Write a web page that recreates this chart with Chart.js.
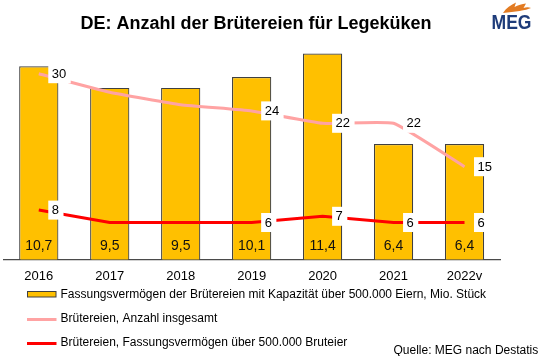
<!DOCTYPE html>
<html><head><meta charset="utf-8">
<script src="https://cdn.jsdelivr.net/npm/chart.js@4.4.0/dist/chart.umd.min.js"></script>
<style>html,body{margin:0;padding:0;background:#fff;}canvas{display:block;}</style>
</head><body>
<canvas id="c" width="540" height="356"></canvas>
<script>
// ---- data ----
const categories = ['2016', '2017', '2018', '2019', '2020', '2021', '2022v'];
const capacityMio = [10.7, 9.5, 9.5, 10.1, 11.4, 6.4, 6.4];
const hatcheriesTotal = [30, 27, 25, 24, 22, 22, 15];
const hatcheriesLarge = [8, 6, 6, 6, 7, 6, 6];
const labelledPoints = [0, 3, 4, 5, 6];
const seriesNames = [
  'Fassungsvermögen der Brütereien mit Kapazität über 500.000 Eiern, Mio. Stück',
  'Brütereien, Anzahl insgesamt',
  'Brütereien, Fassungsvermögen über 500.000 Bruteier'
];
const chartTitle = 'DE: Anzahl der Brütereien für Legeküken';
const sourceNote = 'Quelle: MEG nach Destatis';
const logoText = 'MEG';

const FONT = '"Liberation Sans", Arial, Helvetica, sans-serif';
Chart.defaults.font.family = FONT;
Chart.defaults.color = '#000';

const decorPlugin = {
  id: 'decor',
  afterDatasetsDraw(chart) {
    const ctx = chart.ctx;
    const ds = chart.data.datasets;
    ctx.save();
    // bar value labels
    const barMeta = chart.getDatasetMeta(0);
    const y0 = chart.scales.y.getPixelForValue(0);
    ctx.font = '14px ' + FONT;
    ctx.fillStyle = '#111';
    ctx.textAlign = 'center';
    ctx.textBaseline = 'middle';
    barMeta.data.forEach((el, i) => {
      ctx.fillText(ds[0].data[i].toFixed(1).replace('.', ','), el.x, y0 - 13.5);
    });
    // line labels
    ctx.font = '13px ' + FONT;
    ctx.textAlign = 'left';
    [1, 2].forEach(di => {
      const meta = chart.getDatasetMeta(di);
      labelledPoints.forEach(i => {
        const el = meta.data[i];
        const txt = String(ds[di].data[i]);
        const w = ctx.measureText(txt).width;
        const tx = el.x + 13;
        ctx.fillStyle = '#fff';
        ctx.fillRect(el.x + 9.5, el.y - 9.5, (tx - el.x - 9.5) + w + 4.5, 19);
        ctx.fillStyle = '#000';
        ctx.fillText(txt, tx, el.y + 0.5);
      });
    });
    ctx.restore();
  },
  afterDraw(chart) {
    const ctx = chart.ctx;
    const ds = chart.data.datasets;
    ctx.save();
    // title
    ctx.font = 'bold 18px ' + FONT;
    ctx.fillStyle = '#000';
    ctx.textAlign = 'left';
    ctx.textBaseline = 'alphabetic';
    ctx.fillText(chartTitle, 80.5, 28.5);
    // logo
    ctx.fillStyle = '#E27B22';
    ctx.beginPath();
    ctx.moveTo(503, 13);
    ctx.bezierCurveTo(506, 8, 511, 5, 516, 2.5);
    ctx.lineTo(514.5, 7);
    ctx.bezierCurveTo(518, 5, 522, 4, 526, 3.5);
    ctx.lineTo(523.5, 8);
    ctx.bezierCurveTo(526, 7, 529, 7, 531, 8);
    ctx.bezierCurveTo(526, 10.5, 515, 11.5, 503, 13);
    ctx.fill();
    ctx.font = 'bold 21px ' + FONT;
    ctx.fillStyle = '#1E3C7A';
    ctx.fillText(logoText, 491.5, 28.5, 40);
    // legend
    ctx.font = '12px ' + FONT;
    ctx.textBaseline = 'middle';
    const rows = [294.5, 318.5, 342.5];
    ctx.fillStyle = ds[0].backgroundColor;
    ctx.fillRect(27.5, 291.5, 28.5, 5.5);
    ctx.strokeStyle = ds[0].borderColor;
    ctx.lineWidth = 1;
    ctx.strokeRect(27.5, 291.5, 28.5, 5.5);
    ctx.fillStyle = '#000';
    ctx.fillText(ds[0].label, 60.5, rows[0]);
    [1, 2].forEach((di, k) => {
      const ly = rows[k + 1] + 1;
      ctx.strokeStyle = ds[di].borderColor;
      ctx.lineWidth = 3;
      ctx.beginPath();
      ctx.moveTo(27, ly);
      ctx.lineTo(56.5, ly);
      ctx.stroke();
      ctx.fillStyle = '#000';
      ctx.fillText(ds[di].label, 60.5, rows[k + 1]);
    });
    ctx.fillText(sourceNote, 393.5, 350.5);
    ctx.restore();
  }
};

new Chart(document.getElementById('c'), {
  data: {
    labels: categories,
    datasets: [
      {
        type: 'bar', label: seriesNames[0], data: capacityMio, yAxisID: 'y',
        backgroundColor: '#FFC000', borderColor: '#404040', borderWidth: 1.2,
        barPercentage: 0.553, categoryPercentage: 1, order: 3
      },
      {
        type: 'line', label: seriesNames[1], data: hatcheriesTotal, yAxisID: 'y2',
        borderColor: '#FFA3A3', borderWidth: 3, pointRadius: 0, tension: 0.12, order: 2
      },
      {
        type: 'line', label: seriesNames[2], data: hatcheriesLarge, yAxisID: 'y2',
        borderColor: '#FF0000', borderWidth: 3, pointRadius: 0, tension: 0, order: 1
      }
    ]
  },
  options: {
    responsive: false,
    animation: false,
    devicePixelRatio: 1,
    layout: { padding: { left: 3.3, right: 40, top: 42.7, bottom: 62.7 } },
    plugins: { legend: { display: false }, title: { display: false }, tooltip: { enabled: false } },
    scales: {
      x: {
        grid: { display: false, drawTicks: false },
        border: { display: true, color: '#4a4a4a', width: 1.3 },
        ticks: { font: { size: 13 }, color: '#000', padding: 9 }
      },
      y: { display: false, min: 0, max: 12 },
      y2: { display: false, min: 0, max: 35, position: 'right' }
    }
  },
  plugins: [decorPlugin]
});
</script>
</body></html>
